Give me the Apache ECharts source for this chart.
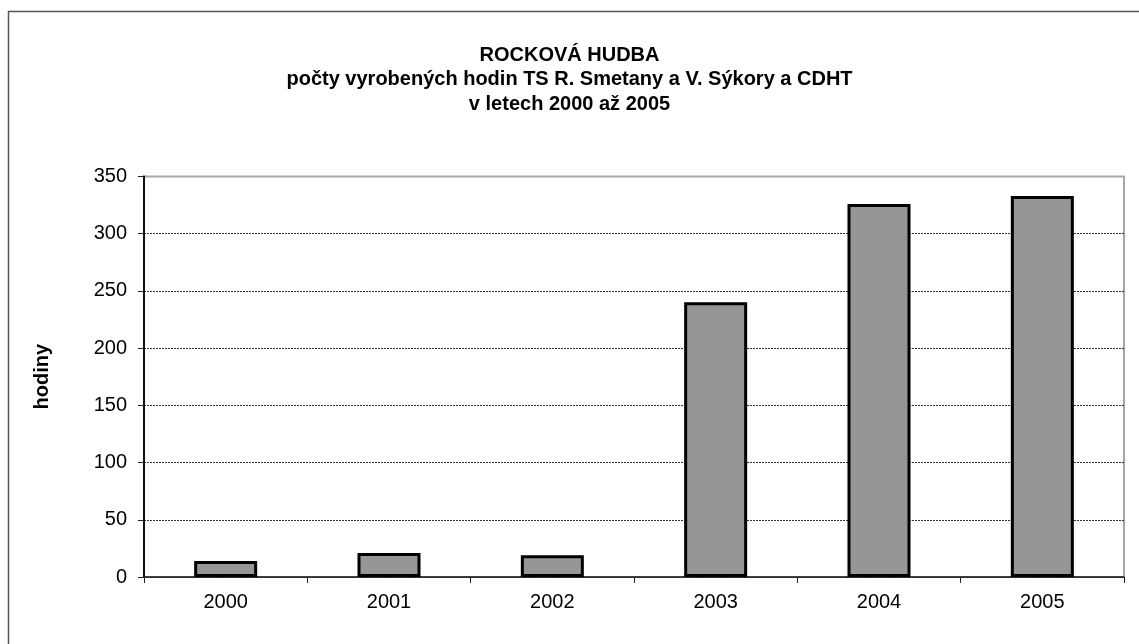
<!DOCTYPE html>
<html>
<head>
<meta charset="utf-8">
<script src="https://cdn.jsdelivr.net/npm/echarts@6/dist/echarts.min.js"></script>
<style>
  html, body { margin: 0; padding: 0; background: #fff; }
  #chart { width: 1139px; height: 644px; }
</style>
</head>
<body>
<div id="chart"></div>
<script>
const years = ['2000', '2001', '2002', '2003', '2004', '2005'];
const hours = [14, 21, 19, 240, 326, 333];
const titleLines = [
  'ROCKOVÁ HUDBA',
  'počty vyrobených hodin TS R. Smetany a V. Sýkory a CDHT',
  'v letech 2000 až 2005'
];
const yName = 'hodiny';

const font = '"Liberation Sans", Arial, sans-serif';
const chart = echarts.init(document.getElementById('chart'));

chart.setOption({
  animation: false,
  backgroundColor: '#fff',
  textStyle: { fontFamily: font },
  title: {
    text: titleLines.join('\n'),
    left: 'center',
    top: 38,
    textStyle: {
      fontFamily: font,
      fontSize: 20,
      fontWeight: 'bold',
      color: '#000',
      lineHeight: 24.5
    }
  },
  graphic: [
    {
      type: 'rect',
      shape: { x: 8.5, y: 11.5, width: 1300, height: 800 },
      style: { fill: null, stroke: '#555', lineWidth: 1.5 },
      silent: true
    }
  ],
  grid: {
    left: 144,
    right: 15,
    top: 176.5,
    bottom: 67,
    show: true,
    borderColor: '#a6a6a6',
    borderWidth: 2,
    backgroundColor: '#fff'
  },
  xAxis: {
    type: 'category',
    data: years,
    axisLine: { lineStyle: { color: '#222', width: 1.5 } },
    axisTick: { show: true, length: 6, lineStyle: { color: '#222', width: 1 } },
    axisLabel: { color: '#000', fontSize: 20, margin: 15, fontFamily: font }
  },
  yAxis: {
    type: 'value',
    min: 0,
    max: 350,
    interval: 50,
    name: yName,
    nameLocation: 'middle',
    nameGap: 92,
    nameTextStyle: { fontSize: 20, fontWeight: 'bold', color: '#000', fontFamily: font },
    axisLine: { show: true, lineStyle: { color: '#111', width: 2 } },
    axisTick: { show: true, length: 6, lineStyle: { color: '#222', width: 1 } },
    axisLabel: { color: '#000', fontSize: 20, margin: 17, fontFamily: font },
    splitLine: {
      show: true,
      showMaxLine: false,
      lineStyle: { color: '#333', width: 1, type: [2, 1] }
    }
  },
  series: [
    {
      type: 'bar',
      data: hours,
      barWidth: 63,
      itemStyle: { color: '#969696', borderColor: '#000', borderWidth: 3 }
    }
  ]
});
</script>
</body>
</html>
